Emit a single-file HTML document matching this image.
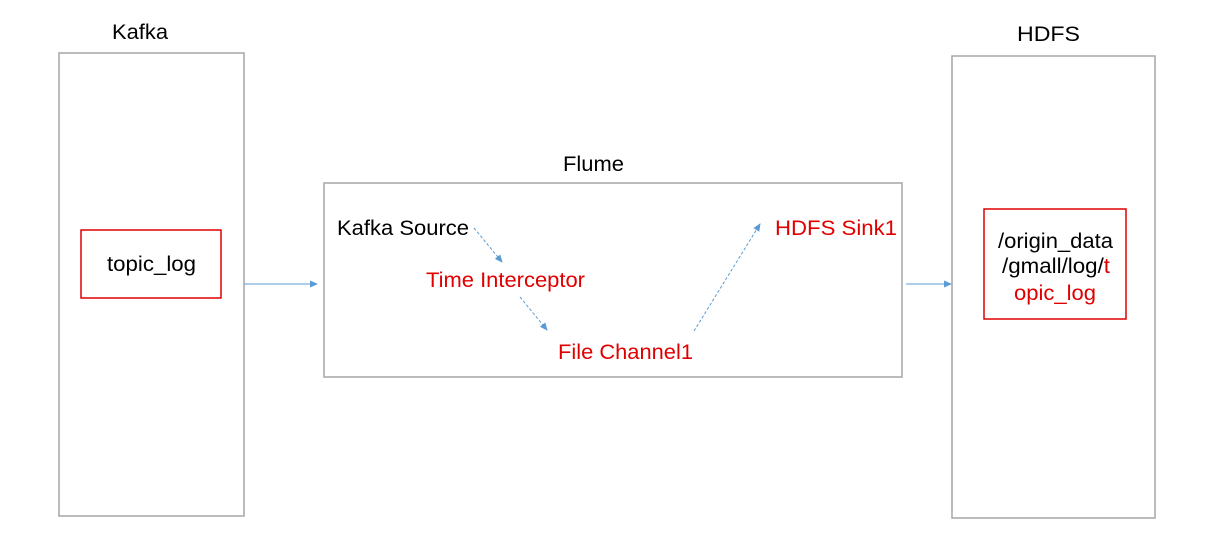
<!DOCTYPE html>
<html><head><meta charset="utf-8"><style>
body{margin:0;background:#fff;}
svg{display:block;font-family:"Liberation Sans",Arial,sans-serif;}
</style></head><body>
<svg width="1224" height="547" viewBox="0 0 1224 547">
<defs>
<marker id="a" markerWidth="8" markerHeight="8" refX="7" refY="4" orient="auto" markerUnits="userSpaceOnUse"><path d="M0,0.5 L8,4 L0,7.5 z" fill="#5b9bd5"/></marker>
</defs>
<rect x="59" y="53" width="185" height="463" fill="none" stroke="#a6a6a6" stroke-width="1.5"/>
<rect x="952" y="56" width="203" height="462" fill="none" stroke="#a6a6a6" stroke-width="1.5"/>
<rect x="324" y="183" width="578" height="194" fill="none" stroke="#a6a6a6" stroke-width="1.5"/>
<g font-size="21" lengthAdjust="spacingAndGlyphs">
<text x="112" y="39" textLength="56" lengthAdjust="spacingAndGlyphs">Kafka</text>
<text x="1017" y="41" textLength="63" lengthAdjust="spacingAndGlyphs">HDFS</text>
<text x="563" y="171" textLength="61" lengthAdjust="spacingAndGlyphs">Flume</text>
<text x="107" y="271" textLength="89" lengthAdjust="spacingAndGlyphs">topic_log</text>
<text x="998" y="248" textLength="115" lengthAdjust="spacingAndGlyphs">/origin_data</text>
<text x="1002" y="273" textLength="108" lengthAdjust="spacingAndGlyphs">/gmall/log/<tspan fill="#e00000">t</tspan></text>
<text x="1014" y="300" fill="#e00000" textLength="82" lengthAdjust="spacingAndGlyphs">opic_log</text>
<text x="337" y="235" textLength="132" lengthAdjust="spacingAndGlyphs">Kafka Source</text>
<text x="426" y="287" fill="#e00000" textLength="159" lengthAdjust="spacingAndGlyphs">Time Interceptor</text>
<text x="558" y="359" fill="#e00000" textLength="135" lengthAdjust="spacingAndGlyphs">File Channel1</text>
<text x="775" y="235" fill="#e00000" textLength="122" lengthAdjust="spacingAndGlyphs">HDFS Sink1</text>
</g>
<rect x="81" y="230" width="140" height="68" fill="none" stroke="#e00000" stroke-width="1.5"/>
<rect x="984" y="209" width="142" height="110" fill="none" stroke="#e00000" stroke-width="1.5"/>
<line x1="244" y1="284" x2="317" y2="284" stroke="#5b9bd5" stroke-width="1" marker-end="url(#a)"/>
<line x1="906" y1="284" x2="951" y2="284" stroke="#5b9bd5" stroke-width="1" marker-end="url(#a)"/>
<g stroke="#5b9bd5" stroke-width="1" stroke-dasharray="3,2" fill="none">
<line x1="474" y1="228" x2="502" y2="262" marker-end="url(#a)"/>
<line x1="520" y1="297" x2="547" y2="330" marker-end="url(#a)"/>
<line x1="694" y1="331" x2="760" y2="224" marker-end="url(#a)"/>
</g>
</svg>
</body></html>
